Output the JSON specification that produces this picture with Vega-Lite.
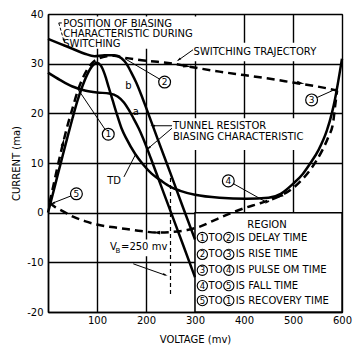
{
"$schema":"https://vega.github.io/schema/vega-lite/v6.json",
"width":294,"height":298,
"autosize":{"type":"none"},
"padding":{"left":48,"top":14,"right":21,"bottom":33},
"background":"white",
"config":{
 "view":{"stroke":"black","strokeWidth":1},
 "axis":{"grid":true,"gridColor":"black","gridWidth":1.4,"gridOpacity":1,"domainColor":"black","domainWidth":1.5,"tickSize":0,"labelFont":"DejaVu Sans","labelFontSize":10,"labelColor":"black","titleFont":"DejaVu Sans","titleFontSize":10,"titleFontWeight":"normal","titleColor":"black","labelFlush":false,"labelOverlap":false},
 "text":{"font":"DejaVu Sans","fontSize":10,"color":"black"}
},
"datasets":{
 "masks":[
  {"v":22,"v2":306,"i":39.5,"i2":33.0},
  {"v":290,"v2":562,"i":34.2,"i2":30.5},
  {"v":249,"v2":512,"i":19.0,"i2":12.6},
  {"v":123,"v2":245,"i":-5.4,"i2":-8.8}
 ],
 "box":[{"v":300,"v2":600,"i":0,"i2":-20}],
 "vb":[{"v":250,"i":7,"i2":-16.5}],
 "curves":[
  {"curve":"TD","v":0,"i":0},{"curve":"TD","v":10,"i":3.8},{"curve":"TD","v":20,"i":7.7},{"curve":"TD","v":30,"i":11.5},{"curve":"TD","v":40,"i":15.3},{"curve":"TD","v":50,"i":19},{"curve":"TD","v":60,"i":22.5},{"curve":"TD","v":70,"i":25.4},{"curve":"TD","v":80,"i":27.8},{"curve":"TD","v":90,"i":29.5},{"curve":"TD","v":100,"i":30.2},{"curve":"TD","v":108,"i":29.6},{"curve":"TD","v":116,"i":27.8},{"curve":"TD","v":124,"i":25.2},{"curve":"TD","v":132,"i":22.6},{"curve":"TD","v":140,"i":20.0},{"curve":"TD","v":150,"i":17.0},{"curve":"TD","v":160,"i":14.9},{"curve":"TD","v":178,"i":11.8},{"curve":"TD","v":195,"i":9.6},{"curve":"TD","v":212,"i":7.8},{"curve":"TD","v":230,"i":6.5},{"curve":"TD","v":250,"i":5.2},{"curve":"TD","v":270,"i":4.4},{"curve":"TD","v":300,"i":3.6},{"curve":"TD","v":350,"i":3.0},{"curve":"TD","v":405,"i":2.8},{"curve":"TD","v":450,"i":3.0},{"curve":"TD","v":475,"i":3.8},{"curve":"TD","v":500,"i":5.8},{"curve":"TD","v":520,"i":7.8},{"curve":"TD","v":535,"i":9.9},{"curve":"TD","v":552,"i":12.6},{"curve":"TD","v":569,"i":16.5},{"curve":"TD","v":580,"i":20.3},{"curve":"TD","v":586,"i":23},{"curve":"TD","v":596,"i":28.6},{"curve":"TD","v":600,"i":31},
  {"curve":"a","v":0,"i":28.2},{"curve":"a","v":25,"i":26.7},{"curve":"a","v":50,"i":25.4},{"curve":"a","v":75,"i":24.6},{"curve":"a","v":100,"i":24.2},{"curve":"a","v":125,"i":24.0},{"curve":"a","v":142,"i":23.4},{"curve":"a","v":155,"i":22.2},{"curve":"a","v":165,"i":20.7},{"curve":"a","v":175,"i":18.9},{"curve":"a","v":185,"i":17.0},{"curve":"a","v":194,"i":15.0},{"curve":"a","v":210,"i":10.9},{"curve":"a","v":230,"i":5.6},{"curve":"a","v":250,"i":0.3},{"curve":"a","v":275,"i":-6.3},{"curve":"a","v":300,"i":-13.0},
  {"curve":"b","v":0,"i":35},{"curve":"b","v":25,"i":34},{"curve":"b","v":50,"i":33},{"curve":"b","v":75,"i":32.0},{"curve":"b","v":95,"i":31.5},{"curve":"b","v":115,"i":31.7},{"curve":"b","v":135,"i":31.7},{"curve":"b","v":150,"i":31.1},{"curve":"b","v":160,"i":30.0},{"curve":"b","v":170,"i":28.2},{"curve":"b","v":180,"i":26.2},{"curve":"b","v":190,"i":23.8},{"curve":"b","v":200,"i":21.2},{"curve":"b","v":225,"i":14.5},{"curve":"b","v":250,"i":7.9},{"curve":"b","v":275,"i":1.2},{"curve":"b","v":300,"i":-5.4}
 ],
 "traj":[
  {"seg":"up","v":3,"i":2},{"seg":"up","v":10,"i":5},{"seg":"up","v":20,"i":9.5},{"seg":"up","v":30,"i":13.7},{"seg":"up","v":40,"i":17.6},{"seg":"up","v":50,"i":21},{"seg":"up","v":61,"i":24.6},{"seg":"up","v":72,"i":27.3},{"seg":"up","v":82,"i":29.1},{"seg":"up","v":92,"i":30.3},{"seg":"up","v":105,"i":31.1},{"seg":"up","v":120,"i":31.5},{"seg":"up","v":135,"i":31.6},{"seg":"up","v":150,"i":31.3},{"seg":"up","v":200,"i":30.6},{"seg":"up","v":256,"i":30.0},{"seg":"up","v":283,"i":29.5},{"seg":"up","v":350,"i":28.4},{"seg":"up","v":400,"i":27.7},{"seg":"up","v":450,"i":27.0},{"seg":"up","v":500,"i":26.2},{"seg":"up","v":550,"i":25.4},{"seg":"up","v":590,"i":24.6},
  {"seg":"down","v":590,"i":24.6},{"seg":"down","v":586,"i":21.5},{"seg":"down","v":582,"i":18.2},{"seg":"down","v":572,"i":15.2},{"seg":"down","v":561,"i":12.8},{"seg":"down","v":548,"i":10.5},{"seg":"down","v":535,"i":8.6},{"seg":"down","v":515,"i":6.3},{"seg":"down","v":494,"i":4.5},{"seg":"down","v":467,"i":3.1},{"seg":"down","v":433,"i":1.9},{"seg":"down","v":400,"i":0.9},{"seg":"down","v":371,"i":-0.2},{"seg":"down","v":340,"i":-1.5},{"seg":"down","v":310,"i":-2.8},{"seg":"down","v":284,"i":-3.5},{"seg":"down","v":250,"i":-3.9},{"seg":"down","v":222,"i":-4.0},{"seg":"down","v":190,"i":-3.7},{"seg":"down","v":160,"i":-3.3},{"seg":"down","v":130,"i":-2.9},{"seg":"down","v":100,"i":-2.4},{"seg":"down","v":75,"i":-1.7},{"seg":"down","v":51,"i":-0.8},{"seg":"down","v":30,"i":0.3},{"seg":"down","v":15,"i":1.1},{"seg":"down","v":3,"i":2}
 ],
 "leaders":[
  {"v":238,"i":26.3,"v2":157,"i2":31.0},
  {"v":538,"i":22.7,"v2":588,"i2":24.9},
  {"v":123,"i":15.8,"v2":63,"i2":24.6},
  {"v":368,"i":6.4,"v2":446,"i2":2.1},
  {"v":58,"i":3.8,"v2":9,"i2":1.9},
  {"v":296,"i":32.8,"v2":266,"i2":30.7},
  {"v":253,"i":17.5,"v2":213,"i2":17.5},
  {"v":253,"i":17.0,"v2":204,"i2":12.9},
  {"v":155,"i":7.2,"v2":178,"i2":11.6},
  {"v":174,"i":-10.3,"v2":240,"i2":-12.6}
 ],
 "posleader":[
  {"v":22,"i":38.2,"v2":30,"i2":38.2},
  {"v":22,"i":38.2,"v2":33,"i2":34.4}
 ],
 "circles":[
  {"n":"1","v":123,"i":15.8},
  {"n":"2","v":238,"i":26.3},
  {"n":"3","v":538,"i":22.7},
  {"n":"4","v":368,"i":6.4},
  {"n":"5","v":58,"i":3.8}
 ],
 "legcircles":[
  {"n":"1","v":315,"i":-5.0},{"n":"2","v":369,"i":-5.0},
  {"n":"2","v":315,"i":-8.4},{"n":"3","v":369,"i":-8.4},
  {"n":"3","v":315,"i":-11.6},{"n":"4","v":369,"i":-11.6},
  {"n":"4","v":315,"i":-14.7},{"n":"5","v":369,"i":-14.7},
  {"n":"5","v":315,"i":-17.7},{"n":"1","v":369,"i":-17.7}
 ],
 "ltext":[
  {"t":"POSITION OF BIASING","v":31,"i":38.0},
  {"t":"CHARACTERISTIC DURING","v":31,"i":36.0},
  {"t":"SWITCHING","v":31,"i":33.9},
  {"t":"SWITCHING TRAJECTORY","v":297,"i":32.3},
  {"t":"TUNNEL RESISTOR","v":255,"i":17.5},
  {"t":"BIASING CHARACTERISTIC","v":255,"i":15.3},
  {"t":"V","v":126.5,"i":-7.0},
  {"t":"=250 mv","v":149,"i":-7.0},
  {"t":"IS DELAY TIME","v":383,"i":-5.0},
  {"t":"IS RISE TIME","v":383,"i":-8.4},
  {"t":"IS PULSE OM TIME","v":383,"i":-11.6},
  {"t":"IS FALL TIME","v":383,"i":-14.7},
  {"t":"IS RECOVERY TIME","v":383,"i":-17.7}
 ],
 "ctext":[
  {"t":"b","v":164,"i":25.5},
  {"t":"a","v":179,"i":20.3},
  {"t":"TD","v":135,"i":6.4},
  {"t":"REGION","v":447,"i":-2.4},
  {"t":"TO","v":342,"i":-5.0},
  {"t":"TO","v":342,"i":-8.4},
  {"t":"TO","v":342,"i":-11.6},
  {"t":"TO","v":342,"i":-14.7},
  {"t":"TO","v":342,"i":-17.7}
 ],
 "sub":[{"t":"B","v":138,"i":-7.8}]
},
"layer":[
 {"data":{"name":"box"},"mark":{"type":"rect","fill":"white","stroke":"black","strokeWidth":1.5},
  "encoding":{
   "x":{"field":"v","type":"quantitative","scale":{"domain":[0,600],"nice":false},"axis":{"grid":true,"gridColor":"black","gridWidth":1.4,"zindex":0,"values":[0,100,200,300,400,500,600],"labelExpr":"datum.value == 0 ? '' : datum.label","title":"VOLTAGE (mv)","labelPadding":3,"titlePadding":9}},
   "x2":{"field":"v2"},
   "y":{"field":"i","type":"quantitative","scale":{"domain":[-20,40],"nice":false},"axis":{"grid":true,"gridColor":"black","gridWidth":1.4,"zindex":0,"values":[-20,-10,0,10,20,30,40],"labelExpr":"'' + datum.value","title":"CURRENT (ma)","labelPadding":5,"titlePadding":5}},
   "y2":{"field":"i2"}}},
 {"data":{"name":"masks"},"mark":{"type":"rect","color":"white","opacity":1},
  "encoding":{"x":{"field":"v","type":"quantitative"},"x2":{"field":"v2"},"y":{"field":"i","type":"quantitative"},"y2":{"field":"i2"}}},
 {"data":{"name":"vb"},"mark":{"type":"rule","color":"black","strokeWidth":1.2,"strokeDash":[4,3]},
  "encoding":{"x":{"field":"v","type":"quantitative"},"y":{"field":"i","type":"quantitative"},"y2":{"field":"i2"}}},
 {"data":{"name":"curves"},"mark":{"type":"line","color":"black","strokeWidth":2.5,"interpolate":"monotone"},
  "encoding":{"x":{"field":"v","type":"quantitative"},"y":{"field":"i","type":"quantitative"},"detail":{"field":"curve"}}},
 {"data":{"name":"traj"},"mark":{"type":"line","color":"black","strokeWidth":2.5,"strokeDash":[8,5],"interpolate":"monotone"},
  "encoding":{"x":{"field":"v","type":"quantitative"},"y":{"field":"i","type":"quantitative"},"detail":{"field":"seg"}}},
 {"data":{"name":"leaders"},"mark":{"type":"rule","color":"black","strokeWidth":1},
  "encoding":{"x":{"field":"v","type":"quantitative"},"y":{"field":"i","type":"quantitative"},"x2":{"field":"v2"},"y2":{"field":"i2"}}},
 {"data":{"name":"posleader"},"mark":{"type":"rule","color":"black","strokeWidth":1,"strokeDash":[3,2]},
  "encoding":{"x":{"field":"v","type":"quantitative"},"y":{"field":"i","type":"quantitative"},"x2":{"field":"v2"},"y2":{"field":"i2"}}},
 {"data":{"values":[{"v":283,"i":29.5},{"v":515,"i":26.1}]},"mark":{"type":"point","shape":"M0,-1L0.45,0.8L-0.45,0.8Z","filled":true,"color":"black","opacity":1,"size":70,"angle":99},
  "encoding":{"x":{"field":"v","type":"quantitative"},"y":{"field":"i","type":"quantitative"}}},
 {"data":{"values":[{"v":473,"i":3.3}]},"mark":{"type":"point","shape":"M0,-1L0.45,0.8L-0.45,0.8Z","filled":true,"color":"black","opacity":1,"size":70,"angle":240},
  "encoding":{"x":{"field":"v","type":"quantitative"},"y":{"field":"i","type":"quantitative"}}},
 {"data":{"values":[{"v":222,"i":-4.0}]},"mark":{"type":"point","shape":"M0,-1L0.45,0.8L-0.45,0.8Z","filled":true,"color":"black","opacity":1,"size":70,"angle":270},
  "encoding":{"x":{"field":"v","type":"quantitative"},"y":{"field":"i","type":"quantitative"}}},
 {"data":{"values":[{"v":31,"i":14.1}]},"mark":{"type":"point","shape":"M0,-1L0.45,0.8L-0.45,0.8Z","filled":true,"color":"black","opacity":1,"size":70,"angle":12},
  "encoding":{"x":{"field":"v","type":"quantitative"},"y":{"field":"i","type":"quantitative"}}},
 {"data":{"values":[{"v":267,"i":30.8},{"v":205,"i":13.0},{"v":447,"i":2.1}]},"mark":{"type":"point","shape":"M0,-1L0.4,0.8L-0.4,0.8Z","filled":true,"color":"black","opacity":1,"size":30,"angle":233},
  "encoding":{"x":{"field":"v","type":"quantitative"},"y":{"field":"i","type":"quantitative"}}},
 {"data":{"values":[{"v":214,"i":17.5}]},"mark":{"type":"point","shape":"M0,-1L0.4,0.8L-0.4,0.8Z","filled":true,"color":"black","opacity":1,"size":30,"angle":270},
  "encoding":{"x":{"field":"v","type":"quantitative"},"y":{"field":"i","type":"quantitative"}}},
 {"data":{"values":[{"v":239,"i":-12.5}]},"mark":{"type":"point","shape":"M0,-1L0.4,0.8L-0.4,0.8Z","filled":true,"color":"black","opacity":1,"size":30,"angle":109},
  "encoding":{"x":{"field":"v","type":"quantitative"},"y":{"field":"i","type":"quantitative"}}},
 {"data":{"values":[{"v":33,"i":34.6}]},"mark":{"type":"point","shape":"M0,-1L0.4,0.8L-0.4,0.8Z","filled":true,"color":"black","opacity":1,"size":30,"angle":164},
  "encoding":{"x":{"field":"v","type":"quantitative"},"y":{"field":"i","type":"quantitative"}}},
 {"data":{"values":[{"v":10,"i":1.9}]},"mark":{"type":"point","shape":"M0,-1L0.4,0.8L-0.4,0.8Z","filled":true,"color":"black","opacity":1,"size":30,"angle":249},
  "encoding":{"x":{"field":"v","type":"quantitative"},"y":{"field":"i","type":"quantitative"}}},
 {"data":{"values":[{"v":64,"i":24.4}]},"mark":{"type":"point","shape":"M0,-1L0.4,0.8L-0.4,0.8Z","filled":true,"color":"black","opacity":1,"size":30,"angle":327},
  "encoding":{"x":{"field":"v","type":"quantitative"},"y":{"field":"i","type":"quantitative"}}},
 {"data":{"name":"circles"},"mark":{"type":"point","shape":"circle","size":140,"filled":true,"fill":"white","stroke":"black","strokeWidth":1.2,"opacity":1},
  "encoding":{"x":{"field":"v","type":"quantitative"},"y":{"field":"i","type":"quantitative"}}},
 {"data":{"name":"circles"},"mark":{"type":"text","fontSize":9,"align":"center","baseline":"middle"},
  "encoding":{"x":{"field":"v","type":"quantitative"},"y":{"field":"i","type":"quantitative"},"text":{"field":"n"}}},
 {"data":{"name":"legcircles"},"mark":{"type":"point","shape":"circle","size":105,"filled":true,"fill":"white","stroke":"black","strokeWidth":1.1,"opacity":1},
  "encoding":{"x":{"field":"v","type":"quantitative"},"y":{"field":"i","type":"quantitative"}}},
 {"data":{"name":"legcircles"},"mark":{"type":"text","fontSize":8.5,"align":"center","baseline":"middle"},
  "encoding":{"x":{"field":"v","type":"quantitative"},"y":{"field":"i","type":"quantitative"},"text":{"field":"n"}}},
 {"data":{"name":"ltext"},"mark":{"type":"text","align":"left","baseline":"middle"},
  "encoding":{"x":{"field":"v","type":"quantitative"},"y":{"field":"i","type":"quantitative"},"text":{"field":"t"}}},
 {"data":{"name":"ctext"},"mark":{"type":"text","align":"center","baseline":"middle"},
  "encoding":{"x":{"field":"v","type":"quantitative"},"y":{"field":"i","type":"quantitative"},"text":{"field":"t"}}},
 {"data":{"name":"sub"},"mark":{"type":"text","align":"left","baseline":"middle","fontSize":7},
  "encoding":{"x":{"field":"v","type":"quantitative"},"y":{"field":"i","type":"quantitative"},"text":{"field":"t"}}}
]
}
